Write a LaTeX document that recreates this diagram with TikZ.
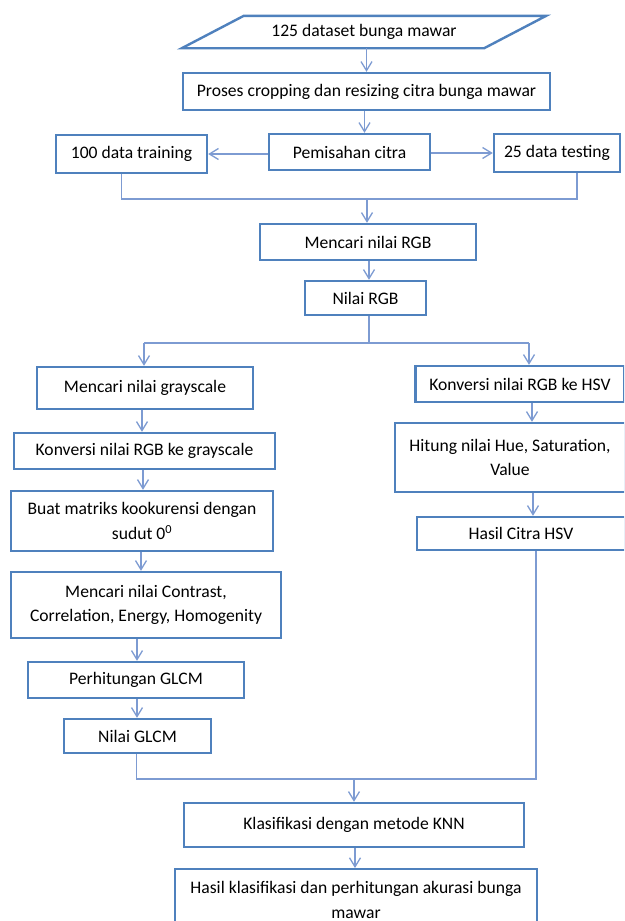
\documentclass[tikz,border=0pt]{standalone}
\usepackage{fontspec}
\setmainfont{Carlito}
\usetikzlibrary{arrows.meta,positioning}

\definecolor{boxblue}{RGB}{79,129,189}
\definecolor{linkblue}{RGB}{125,155,210}

\tikzset{
  procbox/.style={draw=boxblue, line width=2.4pt, align=center, inner sep=0pt,
    font=\fontsize{17.6}{24.5}\selectfont},
  link/.style={draw=linkblue, line width=1.3pt},
  flow/.style={link, -{Straight Barb[length=9pt,width=11pt,line width=1.3pt]}},
}

\begin{document}
\begin{tikzpicture}[x=1pt,y=-1pt]
  \clip (0,0) rectangle (624,921);
  \fill[white] (0,0) rectangle (624,921);

  % input parallelogram
  \node[procbox, draw=none, minimum width=362pt, minimum height=30pt] (data) at (364,32) {125 dataset bunga mawar};
  \draw[draw=boxblue, line width=2.4pt] ([xshift=62pt]data.north west) -- (data.north east)
    -- ([xshift=-62pt]data.south east) -- (data.south west) -- cycle;

  % preprocessing
  \node[procbox, minimum width=367pt, minimum height=37pt] (crop) at (366.5,91.5) {Proses cropping dan resizing citra bunga mawar};
  \node[procbox, minimum width=161pt, minimum height=36pt] (split) at (349.5,152) {Pemisahan citra};
  \node[procbox, minimum width=151pt, minimum height=38pt] (train) at (131.5,154) {100 data training};
  \node[procbox, minimum width=126pt, minimum height=38pt] (test) at (557,153) {25 data testing};
  \node[procbox, minimum width=216pt, minimum height=36pt] (rgb) at (368,242) {Mencari nilai RGB};
  \node[procbox, minimum width=121pt, minimum height=34pt] (nrgb) at (365.5,298) {Nilai RGB};

  % grayscale / GLCM branch
  \node[procbox, minimum width=216pt, minimum height=42pt] (gray) at (145,388) {Mencari nilai grayscale};
  \node[procbox, minimum width=261pt, minimum height=36pt] (conv) at (144.5,451) {Konversi nilai RGB ke grayscale};
  \node[procbox, minimum width=262pt, minimum height=60pt] (matrix) at (142,521) {Buat matriks kookurensi dengan\\sudut 0\textsuperscript{0}};
  \node[procbox, minimum width=270pt, minimum height=66pt] (feat) at (146,605) {Mencari nilai Contrast,\\Correlation, Energy, Homogenity};
  \node[procbox, minimum width=216pt, minimum height=36pt] (calc) at (136,680) {Perhitungan GLCM};
  \node[procbox, minimum width=147pt, minimum height=34pt] (nglcm) at (137.5,736) {Nilai GLCM};

  % HSV branch
  \node[procbox, minimum width=209pt, minimum height=36pt] (hsv) at (520,384) {Konversi nilai RGB ke HSV};
  \node[procbox, minimum width=230pt, minimum height=69pt] (hue) at (510,457.5) {Hitung nilai Hue, Saturation,\\Value};
  \node[procbox, minimum width=208pt, minimum height=33pt] (hsvout) at (521,533.5) {Hasil Citra HSV};

  % classification
  \node[procbox, minimum width=340pt, minimum height=44pt] (knn) at (354,825) {Klasifikasi dengan metode KNN};
  \node[procbox, minimum width=362pt, minimum height=61pt, anchor=north] (result) at (356,868) {Hasil klasifikasi dan perhitungan akurasi bunga\\mawar};

  % junction points
  \coordinate (j1) at (367,199);
  \coordinate (j2) at (369,343);
  \coordinate (j2l) at (144,343);
  \coordinate (j2r) at (529,343);
  \coordinate (j3) at (354,779);

  \draw[flow] (data.south -| crop.north) -- (crop.north);
  \draw[flow] ([xshift=-2pt]crop.south) -- ([xshift=-2pt]crop.south |- split.north);
  \draw[flow] (split.west |- train.east) -- (train.east);
  \draw[flow] (split.east |- test.west) -- (test.west);
  \draw[link] ([xshift=-10pt]train.south) |- (j1) -| ([xshift=20pt]test.south);
  \draw[flow] (j1) -- (j1 |- rgb.north);
  \draw[flow] ([xshift=1pt]rgb.south) -- ([xshift=1pt]rgb.south |- nrgb.north);
  \draw[link] (nrgb.south -| j2) -- (j2);
  \draw[link] (j2l) -- (j2r);
  \draw[flow] (j2l) -- (j2l |- gray.north);
  \draw[flow] (j2r) -- (j2r |- hsv.north);
  \draw[flow] ([xshift=-3pt]gray.south) -- ([xshift=-3pt]gray.south |- conv.north);
  \draw[flow] ([xshift=-1.5pt]conv.south) -- ([xshift=-1.5pt]conv.south |- matrix.north);
  \draw[flow] ([xshift=-1pt]matrix.south) -- ([xshift=-1pt]matrix.south |- feat.north);
  \draw[flow] ([xshift=-9pt]feat.south) -- ([xshift=-9pt]feat.south |- calc.north);
  \draw[flow] ([xshift=1pt]calc.south) -- ([xshift=1pt]calc.south |- nglcm.north);
  \draw[flow] ([xshift=12pt]hsv.south) -- ([xshift=12pt]hsv.south |- hue.north);
  \draw[flow] ([xshift=23pt]hue.south) -- ([xshift=23pt]hue.south |- hsvout.north);
  \draw[link] ([xshift=-1pt]nglcm.south) |- (j3) -| ([xshift=15pt]hsvout.south);
  \draw[flow] (j3) -- (j3 |- knn.north);
  \draw[flow] ([xshift=1pt]knn.south) -- ([xshift=1pt]knn.south |- result.north);
\end{tikzpicture}
\end{document}
